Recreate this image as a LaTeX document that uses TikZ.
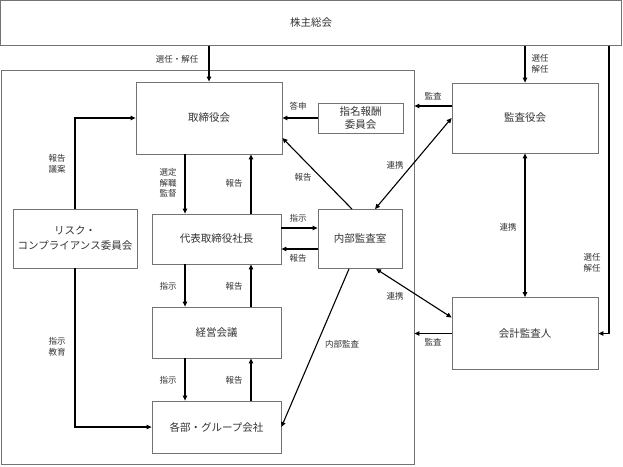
\documentclass[tikz,border=0pt]{standalone}
\usepackage{fontspec}
\setmainfont{Noto Sans CJK JP}
\usetikzlibrary{arrows.meta}

\begin{document}
\begin{tikzpicture}[x=1pt,y=-1pt,
   box/.style={draw=black!55, line width=0.8pt, text=black!80, inner sep=0pt, align=center,
      font=\fontsize{10.5}{14}\selectfont},
   lbl/.style={text=black!80, inner sep=0pt, align=center, font=\fontsize{8.5}{10.5}\selectfont},
   arr/.style={line width=1.1pt, -{Triangle[length=5pt,width=4.5pt]}},
   arrs/.style={line width=1.1pt, {Triangle[length=5pt,width=4.5pt]}-{Triangle[length=5pt,width=4.5pt]}}]
   \useasboundingbox (0,0) rectangle (623,466);

   \node(soukai)[box, minimum width=621pt, minimum height=45pt] at (311,23) {株主総会};
   \node(frame)[draw=black!55, line width=0.8pt, minimum width=413pt, minimum height=394pt] at (207.5,267) {};

   \node(torishimari)[box, minimum width=146pt, minimum height=72pt] at (209,118) {取締役会};
   \node(shimei)[box, minimum width=85pt, minimum height=30pt, font=\fontsize{10.5}{13}\selectfont] at (360.5,118) {指名報酬\\委員会};
   \node(kansayaku)[box, minimum width=146pt, minimum height=70pt] at (525,118) {監査役会};
   \node(risk)[box, minimum width=124pt, minimum height=59pt, font=\fontsize{10.5}{15}\selectfont] at (75,238.5) {リスク・\\コンプライアンス委員会};
   \node(daihyo)[box, minimum width=129pt, minimum height=50pt] at (216.5,239) {代表取締役社長};
   \node(naibu)[box, minimum width=84pt, minimum height=59pt] at (360,239) {内部監査室};
   \node(keiei)[box, minimum width=129pt, minimum height=51pt] at (216.5,332.5) {経営会議};
   \node(kakubu)[box, minimum width=129pt, minimum height=52pt] at (216.5,427) {各部・グループ会社};
   \node(kaikei)[box, minimum width=146pt, minimum height=72pt] at (525,333.5) {会計監査人};

   \coordinate(colL) at ([xshift=-31.5pt]daihyo.north);
   \coordinate(colR) at ([xshift=34.5pt]daihyo.north);
   \coordinate(rline) at (609,0);
   \coordinate(kA) at ([yshift=12pt]kansayaku.west);
   \coordinate(kC) at ([yshift=16pt]kaikei.west);

   \draw[arr] (soukai.south -| torishimari) -- (torishimari.north);
   \draw[arr] (soukai.south -| kansayaku) -- (kansayaku.north);
   \draw[arr] (soukai.south -| rline) |- (kaikei.east);
   \draw[arr] (shimei.west) -- (torishimari.east);
   \draw[arr] (kA) -- (kA -| frame.east);
   \draw[arrs] (kansayaku.west) -- ([xshift=15pt]naibu.north);
   \draw[arrs] (kansayaku.south) -- (kaikei.north);
   \draw[arr] (kaikei.west) -- (kaikei.west -| frame.east);
   \draw[arrs] (kC) -- ([xshift=16pt]naibu.south);
   \draw[arr] ([xshift=-8pt]naibu.north) -- ([yshift=-20pt]torishimari.east);
   \draw[arr] ([yshift=11pt]daihyo.east) -- ([yshift=11pt]naibu.west);
   \draw[arr] ([yshift=-10pt]naibu.west) -- ([yshift=-10pt]daihyo.east);
   \draw[arr] ([xshift=-11pt]naibu.south) -- (kakubu.east);

   \draw[arr] (colL |- torishimari.south) -- (colL |- daihyo.north);
   \draw[arr] (colR |- daihyo.north) -- (colR |- torishimari.south);
   \draw[arr] (colL |- daihyo.south) -- (colL |- keiei.north);
   \draw[arr] (colR |- keiei.north) -- (colR |- daihyo.south);
   \draw[arr] (colL |- keiei.south) -- (colL |- kakubu.north);
   \draw[arr] (colR |- kakubu.north) -- (colR |- keiei.south);

   \draw[arr] (risk.north) |- (torishimari.west);
   \draw[arr] (risk.south) |- (kakubu.west);

   \node(Lsennin)[lbl] at (177,59) {選任・解任};
   \node(Lsennin2)[lbl] at (540,64) {選任\\解任};
   \node(Ltoushin)[lbl] at (298,106) {答申};
   \node(Lkansa1)[lbl] at (433,96) {監査};
   \node(Lhoukoku1)[lbl] at (57,164) {報告\\議案};
   \node(Lsentei)[lbl] at (168,183) {選定\\解職\\監督};
   \node(Lhoukoku2)[lbl] at (234,183) {報告};
   \node(Lhoukoku3)[lbl] at (303,177) {報告};
   \node(Lrenkei1)[lbl] at (395,165) {連携};
   \node(Lrenkei2)[lbl] at (508,227) {連携};
   \node(Lsennin3)[lbl] at (592,263) {選任\\解任};
   \node(Lshiji1)[lbl] at (298,218) {指示};
   \node(Lhoukoku4)[lbl] at (298,258) {報告};
   \node(Lshiji2)[lbl] at (168,286) {指示};
   \node(Lhoukoku5)[lbl] at (234,286) {報告};
   \node(Lrenkei3)[lbl] at (395,296) {連携};
   \node(Lshiji3)[lbl] at (57,347) {指示\\教育};
   \node(Lnaibu)[lbl] at (342,344) {内部監査};
   \node(Lkansa2)[lbl] at (433,342) {監査};
   \node(Lshiji4)[lbl] at (168,380) {指示};
   \node(Lhoukoku6)[lbl] at (234,380) {報告};
\end{tikzpicture}
\end{document}
